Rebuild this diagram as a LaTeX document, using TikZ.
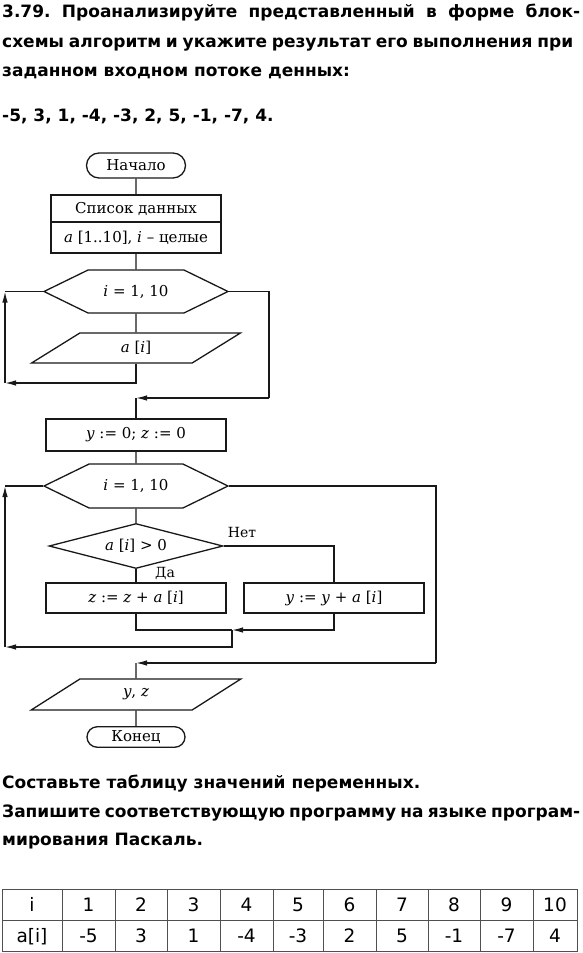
\documentclass[tikz,border=0pt]{standalone}
\usepackage{fontspec}
\setmainfont{DejaVu Serif}
\newfontfamily\textoSans{DejaVu Sans}
\usetikzlibrary{positioning}
\usetikzlibrary{arrows.meta}
\usetikzlibrary{shapes.geometric}
\usetikzlibrary{shapes.misc}
\usetikzlibrary{shapes.symbols}
\usetikzlibrary{calc}
\definecolor{figLinea}{RGB}{25,25,25}
\definecolor{figTabla}{RGB}{80,80,80}
\frenchspacing
\tikzset{
  bloque/.style={
    rectangle, draw=figLinea, line width=1.3pt,
    minimum width=180pt, minimum height=31pt,
    align=center, font=\fontsize{15}{17}\selectfont, inner sep=2pt
  },
  terminal/.style={
    rounded rectangle, draw=figLinea, line width=1.3pt,
    minimum width=103pt, minimum height=25pt,
    font=\fontsize{15}{17}\selectfont, inner sep=2pt
  },
  entrada/.style={
    trapezium, trapezium left angle=48, trapezium right angle=132,
    trapezium stretches=true, draw=figLinea, line width=1.3pt,
    minimum width=210pt, minimum height=30pt,
    font=\fontsize{15}{17}\selectfont, inner sep=1pt
  },
  ciclo/.style={
    signal, signal to=east and west, signal pointer angle=52,
    draw=figLinea, line width=1.3pt,
    minimum width=184pt, minimum height=43pt,
    font=\fontsize{15}{17}\selectfont, inner sep=2pt
  },
  decision/.style={
    diamond, shape aspect=3.9, draw=figLinea, line width=1.3pt,
    minimum width=174pt, minimum height=45pt,
    font=\fontsize{15}{17}\selectfont, inner sep=0pt
  },
  flecha/.style={-{Latex[length=11pt,width=5.5pt]}, line width=1.3pt, draw=figLinea},
  linea/.style={line width=1.3pt, draw=figLinea},
  enunciado/.style={anchor=base west, inner sep=0pt, font=\textoSans\bfseries\fontsize{17}{20}\selectfont},
  etiqueta/.style={anchor=base west, inner sep=0pt, font=\fontsize{14}{16}\selectfont},
  celda/.style={anchor=base, inner sep=0pt, font=\textoSans\fontsize{18.5}{20}\selectfont},
  tabla/.style={line width=0.8pt, draw=figTabla}
}
\begin{document}
\begin{tikzpicture}[x=1pt, y=-1pt]
  \useasboundingbox (0,0) rectangle (582,953);
  % enunciado
  \node[enunciado] (h1) at (2,17) {\makebox[578pt][s]{3.79. Проанализируйте представленный в форме блок-}};
  \node[enunciado] (h2) at (2,47) {\makebox[571pt][s]{схемы алгоритм и укажите результат его выполнения при}};
  \node[enunciado] (h3) at (2,76) {заданном входном потоке денных:};
  \node[enunciado] (h4) at (2,121) {-5, 3, 1, -4, -3, 2, 5, -1, -7, 4.};

  % diagrama
  \node[terminal] (inicio) at (136,165.5) {Начало};
  \node[bloque, minimum width=170pt, minimum height=27pt] (lista) at (136,208.5) {Список данных};
  \node[bloque, minimum width=170pt, minimum height=31pt] (tipos) at (136,237.5) {\textit{a} [1..10], \textit{i} – целые};
  \node[ciclo] (ciclo1) at (136,291.5) {\textit{i} = 1, 10};
  \node[entrada] (leer) at (136,348) {\textit{a} [\textit{i}]};
  \node[bloque, minimum height=32pt] (init) at (136,435) {\textit{y} := 0; \textit{z} := 0};
  \node[ciclo, minimum height=44pt] (ciclo2) at (136,486) {\textit{i} = 1, 10};
  \node[decision] (cond) at (136,546) {\textit{a} [\textit{i}] > 0};
  \node[bloque, minimum height=30pt] (sumz) at (136,598) {\textit{z} := \textit{z} + \textit{a} [\textit{i}]};
  \node[bloque, minimum height=30pt] (sumy) at (334,598) {\textit{y} := \textit{y} + \textit{a} [\textit{i}]};
  \node[entrada, minimum height=31pt] (salida) at (136,694.5) {\textit{y}, \textit{z}};
  \node[terminal, minimum width=102pt, minimum height=20.5pt] (fin) at (136,737) {Конец};
  \node[etiqueta] (no) at ([xshift=4pt, yshift=9pt]cond.east) {Нет};
  \node[etiqueta] (si) at ([xshift=19pt, yshift=-8pt]cond.south) {Да};

  \coordinate (vuelta1) at (5,383);
  \coordinate (salto1) at (269,398);
  \coordinate (union1) at (136,398);
  \coordinate (union2) at (232,630);
  \coordinate (vuelta2) at (5,647);
  \coordinate (salto2) at (436,663);
  \coordinate (union3) at (136,663);

  \draw[linea] (inicio) -- (lista);
  \draw[linea] (tipos) -- (ciclo1);
  \draw[linea] (ciclo1) -- (leer);
  \draw[flecha] (leer.south) |- (vuelta1);
  \draw[flecha] (vuelta1) -- (vuelta1 |- ciclo1.west);
  \draw[linea] (vuelta1 |- ciclo1.west) -- (ciclo1.west);
  \draw[linea] (ciclo1.east) -| (salto1);
  \draw[flecha] (salto1) -- (union1);
  \draw[linea] (union1) -- (init);
  \draw[linea] (init) -- (ciclo2);
  \draw[linea] (ciclo2) -- (cond);
  \draw[linea] (cond) -- (sumz);
  \draw[linea] (cond.east) -| (sumy.north);
  \draw[linea] (sumz.south) |- (union2);
  \draw[flecha] (sumy.south) |- (union2);
  \draw[flecha] (union2) |- (vuelta2);
  \draw[flecha] (vuelta2) -- (vuelta2 |- ciclo2.west);
  \draw[linea] (vuelta2 |- ciclo2.west) -- (ciclo2.west);
  \draw[linea] (ciclo2.east) -| (salto2);
  \draw[flecha] (salto2) -- (union3);
  \draw[linea] (union3) -- (salida);
  \draw[linea] (salida) -- (fin);

  % tareas
  \node[enunciado] (t1) at (2,788) {Составьте таблицу значений переменных.};
  \node[enunciado] (t2) at (2,817) {\makebox[578pt][s]{Запишите соответствующую программу на языке програм-}};
  \node[enunciado] (t3) at (2,845) {мирования Паскаль.};

  % tabla
  \draw[tabla] (2,889) rectangle (577,951);
  \draw[tabla] (2,920) -- (577,920);
  \node[celda] (ti) at (32,911.5) {i};
  \node[celda] (ta) at (32,942) {a[i]};
  \foreach \xa/\xb/\ni/\va in {62/115/1/-5, 115/167/2/3, 167/220/3/1, 220/273/4/-4,
      273/323/5/-3, 323/376/6/2, 376/428/7/5, 428/480/8/-1, 480/533/9/-7, 533/577/10/4} {
    \draw[tabla] (\xa,889) -- (\xa,951);
    \node[celda] (i\ni) at ({(\xa+\xb)/2},911.5) {\ni};
    \node[celda] (a\ni) at ({(\xa+\xb)/2},942) {\va};
  }
\end{tikzpicture}
\end{document}
